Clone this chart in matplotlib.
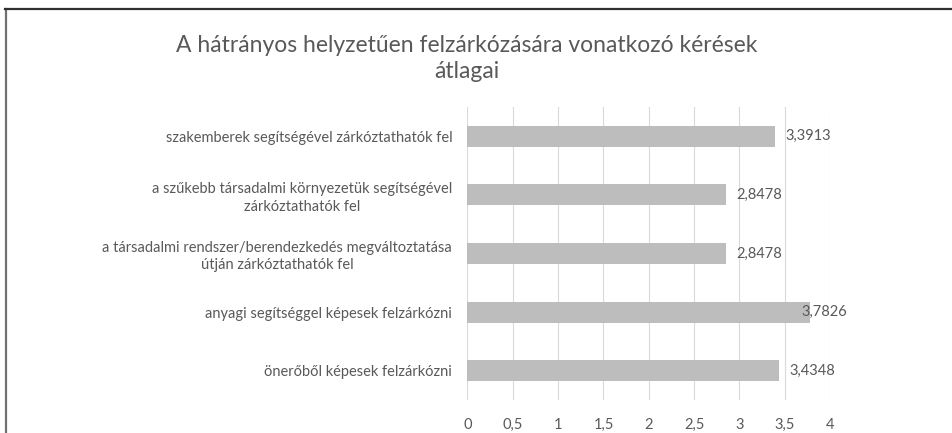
import matplotlib.pyplot as plt
from matplotlib.lines import Line2D

# adatok
categories = [
    "szakemberek segítségével zárkóztathatók fel",
    "a szűkebb társadalmi környezetük segítségével\nzárkóztathatók fel",
    "a társadalmi rendszer/berendezkedés megváltoztatása\nútján zárkóztathatók fel",
    "anyagi segítséggel képesek felzárkózni",
    "önerőből képesek felzárkózni",
]
values = [3.3913, 2.8478, 2.8478, 3.7826, 3.4348]
value_labels = ["3,3913", "2,8478", "2,8478", "3,7826", "3,4348"]
xticks = [0, 0.5, 1, 1.5, 2, 2.5, 3, 3.5, 4]
xtick_labels = ["0", "0,5", "1", "1,5", "2", "2,5", "3", "3,5", "4"]
title = "A hátrányos helyzetűen felzárkózására vonatkozó kérések\nátlagai"

plt.rcParams['font.family'] = ['Lato', 'DejaVu Sans']
txt_col = "#595959"

fig = plt.figure(figsize=(9.52, 4.33), dpi=100)
ax = fig.add_axes([0.491, 0.076, 0.381, 0.677])

ypos = list(range(len(categories)))
ax.barh(ypos, values, height=0.355, color="#bdbdbd", zorder=2)
ax.set_ylim(len(categories) - 0.5, -0.5)
ax.set_xlim(0, 4)
ax.set_xticks(xticks)
ax.set_xticklabels(xtick_labels)
ax.set_yticks(ypos)
ax.set_yticklabels(categories, multialignment="center", linespacing=1.3)
ax.tick_params(axis="both", length=0, labelsize=10.5, colors=txt_col)
ax.tick_params(axis="x", pad=13)
ax.tick_params(axis="y", pad=11)
ax.grid(axis="x", color="#d9d9d9", linewidth=0.8, zorder=0)
for s in ax.spines.values():
    s.set_visible(False)

# ertekcimkek (a tul hosszu a rajzterulet szelehez igazodik)
for y, v, lab in zip(ypos, values, value_labels):
    if v + 0.118 + 0.49 > 4.19:
        ax.text(4.19, y, lab, ha="right", va="center", fontsize=10.5, color=txt_col, zorder=3)
    else:
        ax.text(v + 0.118, y, lab, ha="left", va="center", fontsize=10.5, color=txt_col, zorder=3)

fig.text(0.49, 0.865, title, ha="center", va="center", fontsize=16.5,
         color=txt_col, linespacing=1.25)

# keret
fig.add_artist(Line2D([5.5 / 952, 5.5 / 952], [0, 1 - 9 / 433], color="#707070", linewidth=1.6))
fig.add_artist(Line2D([5 / 952, 1], [1 - 9 / 433, 1 - 9 / 433], color="#303030", linewidth=1.6))

fig.savefig("out.png", dpi=100)
